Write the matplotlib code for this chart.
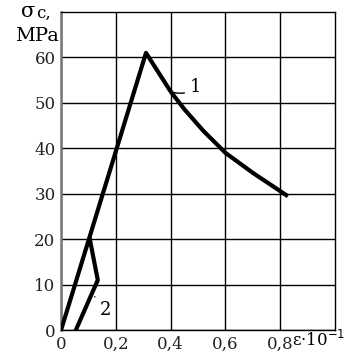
import numpy as np
import matplotlib.pyplot as plt

plt.rcParams['font.family'] = ['DejaVu Serif']

# curve 1: loading up to the peak, then softening
eps1 = [0.0, 0.31, 0.40, 0.45, 0.52, 0.60, 0.70, 0.822]
sig1 = [0.0, 61.0, 52.5, 48.6, 43.8, 39.0, 34.6, 29.7]

# curve 2
eps2 = [0.054, 0.134, 0.105]
sig2 = [0.0, 11.0, 20.0]

xticks = [0, 0.2, 0.4, 0.6, 0.8]
xlabels = ['0', '0,2', '0,4', '0,6', '0,8']
yticks = [0, 10, 20, 30, 40, 50, 60]

fig = plt.figure(figsize=(3.53, 3.53), dpi=100)
ax = fig.add_axes([0.173, 0.065, 0.776, 0.901])

ax.plot(eps1, sig1, color='black', lw=3, solid_joinstyle='round', zorder=3)
ax.plot(eps2, sig2, color='black', lw=3, solid_joinstyle='round', zorder=3)

ax.set_xlim(0, 1.0)
ax.set_ylim(0, 70)
ax.set_xticks(xticks)
ax.set_xticklabels(xlabels)
ax.set_yticks(yticks)
ax.tick_params(length=0, labelsize=12, pad=4, colors='#222222')
ax.grid(True, color='black', lw=1)
for s in ax.spines.values():
    s.set_color('black')
    s.set_linewidth(1)
ax.spines['left'].set_color('#777777')
ax.spines['left'].set_linewidth(1.8)

# curve labels with leaders
ax.annotate('1', xy=(0.40, 52.5), xytext=(0.47, 53.5), fontsize=13,
            va='center', arrowprops=dict(arrowstyle='-', color='black', lw=1,
                                         connectionstyle='arc3,rad=-0.3'))
ax.annotate('2', xy=(0.113, 7.5), xytext=(0.143, 4.5), fontsize=13,
            va='center', arrowprops=dict(arrowstyle='-', color='black', lw=1,
                                         connectionstyle='arc3,rad=0.3'))

fig.text(0.060, 0.968, 'σ', fontsize=15, ha='left', va='center')
fig.text(0.103, 0.962, 'c,', fontsize=12, ha='left', va='center')
fig.text(0.166, 0.898, 'MPa', fontsize=14, ha='right', va='center')
fig.text(0.828, 0.036, 'ε·10$^{-1}$', fontsize=12, ha='left', va='center')

plt.savefig('out.png', dpi=100)
